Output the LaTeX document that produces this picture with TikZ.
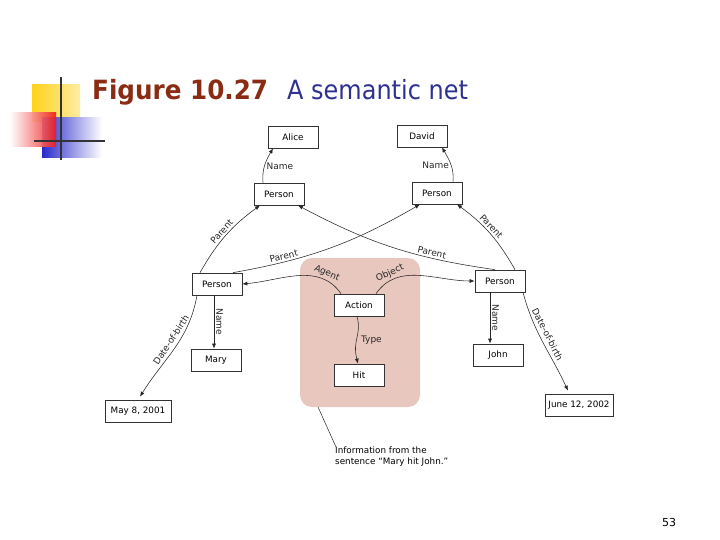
\documentclass[tikz,border=0pt]{standalone}
\usepackage{fontspec}
\usepackage{graphicx}
\setmainfont{DejaVu Sans}
\newfontfamily\titlefont{DejaVu Sans}
\usetikzlibrary{arrows.meta}
\definecolor{titlered}{HTML}{8A2C14}
\definecolor{titleblue}{HTML}{2E3190}
\definecolor{pinkbg}{HTML}{E8C8BE}
\definecolor{decoyellow}{HTML}{FFD21A}
\definecolor{decored}{HTML}{F01818}
\definecolor{decoblue}{HTML}{2A2ACC}
\tikzset{
  box/.style={draw=black!80, line width=0.7pt, fill=white, minimum width=50pt, minimum height=22pt, inner sep=0pt, font=\fontsize{8.8}{10}\selectfont},
  arr/.style={-{Latex[length=5pt,width=4pt]}, line width=0.55pt, black!85},
  lbl/.style={font=\fontsize{9}{10}\selectfont, inner sep=2pt},
}
\begin{document}
\begin{tikzpicture}[x=1pt,y=1pt]
\useasboundingbox (0,0) rectangle (720,-540);
% decoration
\shade[left color=decoyellow, right color=decoyellow!40] (32,-85) rectangle (80,-122);
\shade[left color=decoblue, right color=white] (42,-118) rectangle (102,-158);
\shade[left color=white, right color=decored, opacity=0.9] (10,-113) rectangle (56,-147);
\draw[line width=2pt, black!80] (61,-77) -- (61,-160);
\draw[line width=2pt, black!80] (34,-141) -- (105,-141);
% title
\node[anchor=base west, inner sep=0pt, text=titlered, font=\titlefont\bfseries\fontsize{26.5}{28}\selectfont] (t1) at (92,-99.3) {\scalebox{0.93}[1]{Figure 10.27}};
\node[anchor=base west, inner sep=0pt, text=titleblue, font=\titlefont\fontsize{26.5}{28}\selectfont] (t2) at (287,-99.3) {\scalebox{0.905}[1]{A semantic net}};
% pink panel
\fill[pinkbg, rounded corners=12pt] (300,-258) rectangle (420,-407);
% nodes
\node[box] (alice) at (293,-137) {Alice};
\node[box] (david) at (422,-136) {David};
\node[box] (p1) at (279,-194) {Person};
\node[box] (p2) at (437,-193) {Person};
\node[box] (pl) at (217,-284) {Person};
\node[box] (pr) at (500,-281) {Person};
\node[box] (action) at (359,-305) {Action};
\node[box] (hit) at (359,-375) {Hit};
\node[box] (mary) at (216,-360) {Mary};
\node[box] (john) at (498,-355) {John};
\node[box, minimum width=66pt] (may) at (138,-411) {May 8, 2001};
\node[box, minimum width=68pt] (june) at (579,-405) {June 12, 2002};
\node[anchor=north west, align=left, inner sep=0pt, font=\fontsize{8.8}{11}\selectfont] (info) at (335,-447) {Information from the\\sentence ``Mary hit John.''};
\node[font=\fontsize{11}{12}\selectfont] (pg) at (669,-522) {53};
\coordinate (panel) at (318,-407);
\draw[line width=0.5pt, black!85] (panel) -- ([xshift=1pt]info.north west);
% edges
\draw[arr] ([xshift=-16pt]p1.north) to[out=95,in=240] node[lbl, right, pos=0.45] {Name} ([xshift=-20pt]alice.south);
\draw[arr] ([xshift=16pt]p2.north) to[out=85,in=300] node[lbl, left, pos=0.45] {Name} ([xshift=20pt]david.south);
\draw[arr] ([xshift=-17pt]pl.north) to[bend left=12] node[lbl, sloped, above, pos=0.5] {Parent} ([xshift=-19pt]p1.south);
\draw[arr] ([xshift=16pt]pl.north) to[bend right=10] node[lbl, sloped, above, pos=0.25] {Parent} ([xshift=-17pt]p2.south);
\draw[arr] ([xshift=-5pt]pr.north) to[bend left=10] node[lbl, sloped, above, pos=0.3] {Parent} ([xshift=19pt]p1.south);
\draw[arr] ([xshift=15pt]pr.north) to[bend right=12] node[lbl, sloped, above, pos=0.55] {Parent} ([xshift=20pt]p2.south);
\draw[arr] ([xshift=-18pt]action.north) to[out=125,in=5] node[lbl, sloped, above, pos=0.22] {Agent} (pl.east);
\draw[arr] ([xshift=17pt]action.north) to[out=55,in=180] node[lbl, sloped, above, pos=0.22] {Object} (pr.west);
\draw[arr] ([xshift=-2pt]action.south) .. controls (362,-335) and (352,-340) .. node[lbl, right, pos=0.55, xshift=2pt] {Type} ([xshift=-1pt]hit.north);
\draw[arr] ([xshift=-3pt]pl.south) -- node[lbl, sloped, allow upside down, above] {Name} ([xshift=-2pt]mary.north);
\draw[arr] ([xshift=-10pt]pr.south) -- node[lbl, sloped, allow upside down, above] {Name} ([xshift=-8pt]john.north);
\draw[arr] ([xshift=-20pt]pl.south) to[out=-100,in=58] node[lbl, sloped, above=2pt, pos=0.45] {Date-of-birth} ([xshift=2pt,yshift=3pt]may.north);
\draw[arr] ([xshift=23pt]pr.south) to[out=-75,in=115] node[lbl, sloped, above=2pt, pos=0.45] {Date-of-birth} ([xshift=-11pt,yshift=3pt]june.north);
\end{tikzpicture}
\end{document}
